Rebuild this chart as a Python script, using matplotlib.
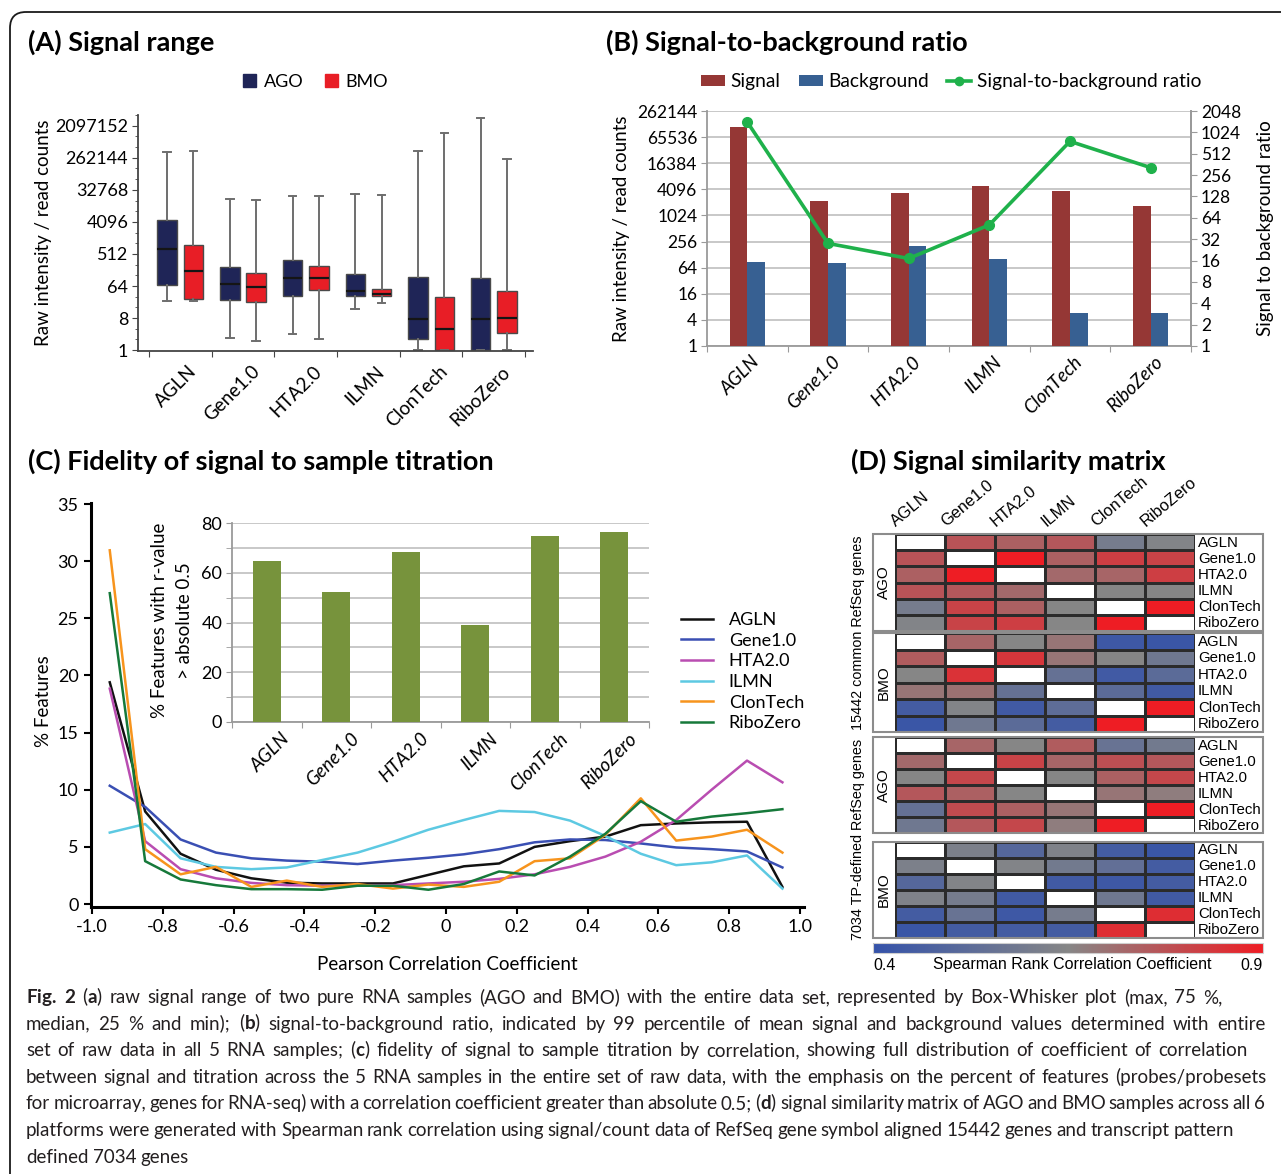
import numpy as np
import matplotlib
matplotlib.use("Agg")
import matplotlib.pyplot as plt
from matplotlib import cm
from matplotlib.colors import LinearSegmentedColormap, Normalize
from matplotlib.lines import Line2D
from matplotlib.patches import FancyBboxPatch, Patch, Rectangle
from matplotlib.ticker import FixedLocator, NullFormatter
from matplotlib.transforms import blended_transform_factory

plt.rcParams["font.family"] = ["Lato", "DejaVu Sans"]
plt.rcParams["mathtext.fontset"] = "custom"
plt.rcParams["mathtext.rm"] = "Lato"
plt.rcParams["mathtext.bf"] = "Lato:bold"

W, H = 1281, 1174
ARIAL = ["Liberation Sans", "DejaVu Sans"]
nan = np.nan

platforms = ["AGLN", "Gene1.0", "HTA2.0", "ILMN", "ClonTech", "RiboZero"]

# (A) box-whisker summaries, log2 of raw intensity / read counts
ago_max = [18.52, 14.18, 14.40, 14.59, 18.61, 21.71]
ago_q3 = [12.17, 7.74, 8.39, 7.12, 6.84, 6.72]
ago_med = [9.48, 6.19, 6.75, 5.51, 2.88, 2.88]
ago_q1 = [6.07, 4.65, 5.05, 5.05, 1.02, 0.0]
ago_min = [4.58, 1.18, 1.55, 3.81, 0.0, 0.0]
bmo_max = [18.67, 14.03, 14.43, 14.49, 20.32, 17.93]
bmo_q3 = [9.85, 7.18, 7.84, 5.76, 4.96, 5.51]
bmo_med = [7.37, 5.88, 6.75, 5.26, 2.01, 3.03]
bmo_q1 = [4.80, 4.52, 5.60, 5.02, 0.0, 1.64]
bmo_min = [4.58, 0.87, 1.02, 4.43, 0.0, 0.0]

# (B) 99th percentile signal / background and their ratio
signal_99 = [113400, 2240, 3440, 5010, 3770, 1690]
background_99 = [83.3, 81.6, 197, 99.7, 4.66, 4.66]
sb_ratio = [1428, 27.9, 17.1, 50.9, 765, 326]

# (C) % features per correlation bin
r_bins = [-0.95, -0.85, -0.75, -0.65, -0.55, -0.45, -0.35, -0.25, -0.15, -0.05,
          0.05, 0.15, 0.25, 0.35, 0.45, 0.55, 0.65, 0.75, 0.85, 0.95]
r_agln = [19.4, 8.1, 4.4, 3.0, 2.25, 1.87, 1.8, 1.8, 1.8, 2.55,
          3.3, 3.55, 5.0, 5.5, 5.9, 6.9, 7.05, 7.15, 7.2, 1.5]
r_gene = [10.35, 8.5, 5.65, 4.5, 4.0, 3.8, 3.7, 3.5, 3.8, 4.05,
          4.35, 4.8, 5.4, 5.65, 5.6, 5.3, 4.95, 4.8, 4.6, 3.2]
r_hta = [18.85, 5.5, 3.05, 2.25, 1.85, 1.65, 1.6, 1.65, 1.65, 1.8,
         1.95, 2.2, 2.6, 3.25, 4.15, 5.45, 7.35, 10.0, 12.55, 10.65]
r_ilmn = [6.25, 7.0, 4.0, 3.25, 3.05, 3.2, 3.85, 4.5, 5.45, 6.5,
          7.35, 8.15, 8.05, 7.3, 5.95, 4.4, 3.4, 3.65, 4.25, 1.35]
r_clontech = [30.95, 4.8, 2.6, 3.25, 1.5, 2.05, 1.5, 1.75, 1.35, 1.7,
              1.5, 1.95, 3.75, 4.0, 6.05, 9.25, 5.55, 5.9, 6.5, 4.5]
r_ribozero = [27.2, 3.75, 2.15, 1.65, 1.3, 1.3, 1.25, 1.6, 1.6, 1.25,
              1.75, 2.85, 2.5, 4.15, 6.15, 9.0, 7.2, 7.65, 7.95, 8.3]
above_half = [64.6, 52.1, 68.5, 38.9, 74.8, 76.5]

# (D) Spearman rank correlation matrices (diagonal left blank)
ago_refseq = [
    [nan, 0.77, 0.74, 0.76, 0.60, 0.64],
    [0.77, nan, 0.90, 0.74, 0.82, 0.81],
    [0.74, 0.90, nan, 0.72, 0.73, 0.82],
    [0.77, 0.76, 0.72, nan, 0.65, 0.65],
    [0.60, 0.81, 0.74, 0.65, nan, 0.90],
    [0.64, 0.81, 0.82, 0.65, 0.90, nan],
]
bmo_refseq = [
    [nan, 0.73, 0.65, 0.69, 0.43, 0.42],
    [0.75, nan, 0.84, 0.69, 0.65, 0.58],
    [0.65, 0.85, nan, 0.55, 0.44, 0.52],
    [0.69, 0.70, 0.55, nan, 0.52, 0.44],
    [0.45, 0.64, 0.44, 0.53, nan, 0.90],
    [0.42, 0.58, 0.52, 0.45, 0.90, nan],
]
ago_tp = [
    [nan, 0.73, 0.65, 0.75, 0.56, 0.59],
    [0.72, nan, 0.81, 0.73, 0.78, 0.76],
    [0.65, 0.80, nan, 0.65, 0.74, 0.80],
    [0.76, 0.74, 0.65, nan, 0.69, 0.67],
    [0.55, 0.79, 0.74, 0.69, nan, 0.90],
    [0.58, 0.76, 0.80, 0.67, 0.90, nan],
]
bmo_tp = [
    [nan, 0.62, 0.50, 0.63, 0.45, 0.42],
    [0.62, nan, 0.64, 0.59, 0.54, 0.45],
    [0.50, 0.64, nan, 0.44, 0.43, 0.45],
    [0.63, 0.60, 0.44, nan, 0.58, 0.44],
    [0.45, 0.56, 0.43, 0.60, nan, 0.86],
    [0.42, 0.45, 0.45, 0.45, 0.86, nan],
]

caption_lines = [
    r"$\bf{Fig.}$ $\bf{2}$ ($\bf{a}$) raw signal range of two pure RNA samples (AGO and BMO) with the entire data set, represented by Box-Whisker plot (max, 75 %,",
    r"median, 25 % and min); ($\bf{b}$) signal-to-background ratio, indicated by 99 percentile of mean signal and background values determined with entire",
    r"set of raw data in all 5 RNA samples; ($\bf{c}$) fidelity of signal to sample titration by correlation, showing full distribution of coefficient of correlation",
    r"between signal and titration across the 5 RNA samples in the entire set of raw data, with the emphasis on the percent of features (probes/probesets",
    r"for microarray, genes for RNA-seq) with a correlation coefficient greater than absolute 0.5; ($\bf{d}$) signal similarity matrix of AGO and BMO samples across all 6",
    r"platforms were generated with Spearman rank correlation using signal/count data of RefSeq gene symbol aligned 15442 genes and transcript pattern",
    r"defined 7034 genes",
]
# right edge of each caption line (None = natural word spacing)
caption_right = [1222, 1266, 1248, 1266, 1265, 1234, None]


def rect(left, top, right, bottom):
    """Pixel box (from top-left) -> figure fraction rect."""
    return [left / W, 1 - bottom / H, (right - left) / W, (bottom - top) / H]


def rotated_names(ax, dx, dy, italic=False, size=13):
    trans = blended_transform_factory(ax.transData, ax.transAxes)
    for i, name in enumerate(platforms):
        ax.text(i + dx, dy, name, transform=trans, rotation=45, rotation_mode="anchor",
                ha="right", va="top", fontsize=size, style="italic" if italic else "normal")


fig = plt.figure(figsize=(W / 100, H / 100), dpi=100)
ov = fig.add_axes([0, 0, 1, 1], zorder=10)
ov.set_xlim(0, W)
ov.set_ylim(H, 0)
ov.axis("off")

x = np.arange(len(platforms))

# ---------------- (A) Signal range ----------------
axA = fig.add_axes(rect(138, 115, 533, 351))
ago_col, bmo_col = "#1f2557", "#e81e26"
for vals, shift, col in [
    ((ago_min, ago_q1, ago_med, ago_q3, ago_max), -0.21, ago_col),
    ((bmo_min, bmo_q1, bmo_med, bmo_q3, bmo_max), 0.21, bmo_col),
]:
    lo, q1, med, q3, hi = [np.exp2(v) for v in vals]
    stats = [dict(whislo=lo[i], q1=q1[i], med=med[i], q3=q3[i], whishi=hi[i], fliers=[])
             for i in range(len(platforms))]
    axA.bxp(stats, positions=x + shift, widths=0.31, capwidths=0.12, patch_artist=True,
            showfliers=False,
            boxprops=dict(facecolor=col, edgecolor="#4a4a4a", linewidth=1.0),
            whiskerprops=dict(color="#6e6e6e", linewidth=1.4),
            capprops=dict(color="#6e6e6e", linewidth=1.4),
            medianprops=dict(color="#151515", linewidth=1.6))
axA.set_yscale("log", base=2)
axA.set_ylim(2 ** -0.08, 2 ** 22)
axA.set_xlim(-0.675, 5.625)
major = [2 ** k for k in range(0, 22, 3)]
axA.yaxis.set_major_locator(FixedLocator(major))
axA.set_yticklabels([str(v) for v in major])
axA.yaxis.set_minor_locator(FixedLocator([2 ** k for k in range(0, 23)]))
axA.yaxis.set_minor_formatter(NullFormatter())
axA.set_xticks(np.arange(-0.5, 6, 1))
axA.set_xticklabels([])
for s in ["top", "right"]:
    axA.spines[s].set_visible(False)
for s in ["left", "bottom"]:
    axA.spines[s].set_color("#444444")
    axA.spines[s].set_linewidth(1.3)
axA.tick_params(axis="y", which="major", length=4, color="#444444", labelsize=13, pad=3)
axA.tick_params(axis="y", which="minor", length=2.5, color="#444444")
axA.tick_params(axis="x", length=4, color="#444444")
axA.set_ylabel("Raw intensity / read counts", fontsize=13.5)
axA.yaxis.set_label_coords(-0.218, 0.5)
rotated_names(axA, 0.12, -0.05, size=13.5)
axA.legend(handles=[Patch(facecolor=ago_col, edgecolor=ago_col, label="AGO"),
                    Patch(facecolor=bmo_col, edgecolor=bmo_col, label="BMO")],
           ncol=2, frameon=False, fontsize=13, loc="center left",
           bbox_to_anchor=(243 / W, 1 - 82 / H), bbox_transform=fig.transFigure,
           borderpad=0, borderaxespad=0, handlelength=0.72, handleheight=0.72,
           handletextpad=0.42, columnspacing=1.2)

# ---------------- (B) Signal-to-background ratio ----------------
axB = fig.add_axes(rect(707, 111, 1191, 346))
sig_col, bg_col, ratio_col = "#953735", "#376092", "#1fb14b"
axB.bar(x - 0.11, signal_99, width=0.22, bottom=1, color=sig_col, zorder=3)
axB.bar(x + 0.11, background_99, width=0.22, bottom=1, color=bg_col, zorder=3)
axB.set_yscale("log", base=2)
axB.set_ylim(1, 2 ** 18)
axB.set_xlim(-0.5, 5.5)
left_ticks = [2 ** k for k in range(0, 19, 2)]
axB.yaxis.set_major_locator(FixedLocator(left_ticks))
axB.set_yticklabels([str(v) for v in left_ticks])
axB.yaxis.set_minor_locator(FixedLocator([]))
axB.grid(axis="y", color="#c4c4c4", linewidth=1.3, zorder=0)
axB.set_axisbelow(True)
axB.set_xticks(np.arange(-0.5, 6, 1))
axB.set_xticklabels([])
axB.spines["top"].set_visible(False)
for s in ["left", "right", "bottom"]:
    axB.spines[s].set_color("#9a9a9a")
    axB.spines[s].set_linewidth(1.3)
axB.tick_params(axis="both", length=4, color="#9a9a9a", labelsize=12.5, pad=3)
axB.set_ylabel("Raw intensity / read counts", fontsize=13.5)
axB.yaxis.set_label_coords(-0.159, 0.5)
rotated_names(axB, 0.04, -0.03, italic=True, size=13.5)

axB2 = axB.twinx()
axB2.plot(x, sb_ratio, color=ratio_col, linewidth=2.6, marker="o", markersize=7, zorder=5)
axB2.set_yscale("log", base=2)
axB2.set_ylim(1, 2 ** 11)
right_ticks = [2 ** k for k in range(0, 12)]
axB2.yaxis.set_major_locator(FixedLocator(right_ticks))
axB2.set_yticklabels([str(v) for v in right_ticks])
axB2.yaxis.set_minor_locator(FixedLocator([]))
for s in ["top", "left", "bottom"]:
    axB2.spines[s].set_visible(False)
axB2.spines["right"].set_color("#9a9a9a")
axB2.spines["right"].set_linewidth(1.3)
axB2.tick_params(axis="y", length=4, color="#9a9a9a", labelsize=12.5, pad=3)
axB2.set_ylabel("Signal to background ratio", fontsize=13.5)
axB2.yaxis.set_label_coords(1.136, 0.5)
axB.legend(handles=[Patch(facecolor=sig_col, label="Signal"),
                    Patch(facecolor=bg_col, label="Background"),
                    Line2D([], [], color=ratio_col, linewidth=2.6, marker="o", markersize=6,
                           label="Signal-to-background ratio")],
           ncol=3, frameon=False, fontsize=13.8, loc="center left",
           bbox_to_anchor=(701 / W, 1 - 82 / H), bbox_transform=fig.transFigure,
           borderpad=0, borderaxespad=0, handlelength=1.25, handleheight=0.5,
           handletextpad=0.3, columnspacing=0.95)

# ---------------- (C) Fidelity of signal to sample titration ----------------
axC = fig.add_axes(rect(91, 503, 804, 907))
series = [("AGLN", r_agln, "#111111"), ("Gene1.0", r_gene, "#3a4fb3"),
          ("HTA2.0", r_hta, "#b94db1"), ("ILMN", r_ilmn, "#5dc9e2"),
          ("ClonTech", r_clontech, "#f7941d"), ("RiboZero", r_ribozero, "#16793a")]
for name, vals, col in series:
    axC.plot(r_bins, vals, color=col, linewidth=1.8, label=name)
axC.set_xlim(-1.003, 1.011)
axC.set_ylim(-0.26, 35.09)
axC.set_yticks(range(0, 36, 5))
xt = np.round(np.arange(-1.0, 1.01, 0.2), 1)
axC.set_xticks(xt)
axC.set_xticklabels(["0" if v == 0 else f"{v:.1f}" for v in xt])
for s in ["top", "right"]:
    axC.spines[s].set_visible(False)
for s in ["left", "bottom"]:
    axC.spines[s].set_linewidth(2.2)
axC.tick_params(axis="both", length=5, width=1.5, labelsize=13, pad=4)
axC.set_xlabel("Pearson Correlation Coefficient", fontsize=13.5)
axC.xaxis.set_label_coords(0.5, -0.121)
axC.set_ylabel("% Features", fontsize=13.5)
axC.yaxis.set_label_coords(-0.055, 0.51)
axC.legend(frameon=False, fontsize=13, loc="upper left",
           bbox_to_anchor=(681 / W, 1 - 612 / H), bbox_transform=fig.transFigure,
           borderpad=0, borderaxespad=0, handlelength=1.75, handletextpad=0.9,
           labelspacing=0.26)

axI = fig.add_axes(rect(232, 523, 649, 722))
axI.bar(x, above_half, width=0.4, color="#77933c", zorder=3)
axI.set_xlim(-0.5, 5.5)
axI.set_ylim(0, 80)
axI.set_yticks(range(0, 81, 20))
axI.set_yticks(range(10, 80, 20), minor=True)
axI.grid(axis="y", which="both", color="#c4c4c4", linewidth=1.3, zorder=0)
axI.set_axisbelow(True)
axI.set_xticks(np.arange(-0.5, 6, 1))
axI.set_xticklabels([])
for s in ["top", "right"]:
    axI.spines[s].set_visible(False)
for s in ["left", "bottom"]:
    axI.spines[s].set_color("#9a9a9a")
    axI.spines[s].set_linewidth(1.3)
axI.tick_params(axis="both", which="both", length=4, color="#9a9a9a", labelsize=13, pad=3)
axI.set_ylabel("% Features with r-value\n> absolute 0.5", fontsize=13.5, linespacing=1.55)
axI.yaxis.set_label_coords(-0.094, 0.51)
rotated_names(axI, 0.2, -0.04, italic=True, size=13.5)

# ---------------- (D) Signal similarity matrix ----------------
spearman = LinearSegmentedColormap.from_list("spearman", ["#3452a9", "#868686", "#ee1d24"])
spearman.set_bad("white")
blocks = [(ago_refseq, "AGO", 534, 631), (bmo_refseq, "BMO", 633, 732),
          (ago_tp, "AGO", 737, 833), (bmo_tp, "BMO", 842, 938)]
cell_left, cell_right = 895, 1195
for mat, sample, top, bottom in blocks:
    axH = fig.add_axes(rect(cell_left, top, cell_right, bottom))
    axH.pcolormesh(np.ma.masked_invalid(np.array(mat)), cmap=spearman, vmin=0.4, vmax=0.9,
                   edgecolors="#2b2b2b", linewidth=0.8)
    axH.set_xlim(0, 6)
    axH.set_ylim(6, 0)
    axH.axis("off")
    ov.add_patch(Rectangle((873, top), 390, bottom - top, fill=False,
                           edgecolor="#8c8c8c", linewidth=1.5))
    ov.text(884, (top + bottom) / 2, sample, rotation=90, ha="center", va="center",
            fontsize=11, family=ARIAL)
    row_h = (bottom - top) / 6
    for i, name in enumerate(platforms):
        ov.text(cell_right + 3, top + row_h * (i + 0.5) + 0.5, name, ha="left", va="center",
                fontsize=10.8, family=ARIAL)

col_w = (cell_right - cell_left) / 6
for i, name in enumerate(platforms):
    ov.text(cell_left + col_w * i + 3, 529, name, rotation=40, rotation_mode="anchor",
            ha="left", va="bottom", fontsize=11.8, family=ARIAL)
ov.text(858, 633, "15442 common RefSeq genes", rotation=90, ha="center", va="center",
        fontsize=10.4, family=ARIAL)
ov.text(858, 839, "7034 TP-defined RefSeq genes", rotation=90, ha="center", va="center",
        fontsize=10.4, family=ARIAL)

axCB = fig.add_axes(rect(873, 943, 1263, 953))
cb = fig.colorbar(cm.ScalarMappable(norm=Normalize(0.4, 0.9), cmap=spearman), cax=axCB,
                  orientation="horizontal")
cb.set_ticks([])
cb.outline.set_edgecolor("#cfcfcf")
ov.text(873, 965, "0.4", ha="left", va="center", fontsize=11.5, family=ARIAL)
ov.text(1263, 965, "0.9", ha="right", va="center", fontsize=11.5, family=ARIAL)
ov.text(1072, 965, "Spearman Rank Correlation Coefficient", ha="center", va="center",
        fontsize=11.5, family=ARIAL)

# ---------------- panel titles, frame, caption ----------------
for px, py, title in [(28, 42, "(A) Signal range"), (606, 42, "(B) Signal-to-background ratio"),
                      (28, 461, "(C) Fidelity of signal to sample titration"),
                      (851, 461, "(D) Signal similarity matrix")]:
    ov.text(px, py, title, ha="left", va="center", fontsize=19.5, fontweight="bold")

ov.add_patch(FancyBboxPatch((10, 12), 1500, 1400, boxstyle="round,pad=0,rounding_size=16",
                            fill=False, edgecolor="#1a1a1a", linewidth=1.3))

# caption: words laid out one by one so each line ends at its own right edge
renderer = fig.canvas.get_renderer()
for i, (line, right) in enumerate(zip(caption_lines, caption_right)):
    base = 1003 + i * 26.6
    words = [ov.text(0, base, w, ha="left", va="baseline", fontsize=13.5, color="#231f20")
             for w in line.split(" ")]
    widths = [w.get_window_extent(renderer).width for w in words]
    gap = 4.0 if right is None else (right - 26 - sum(widths)) / (len(words) - 1)
    gap = max(gap, 2.6)
    pos = 26
    for w, wd in zip(words, widths):
        w.set_x(pos)
        pos += wd + gap

fig.savefig("out.png", dpi=100)
